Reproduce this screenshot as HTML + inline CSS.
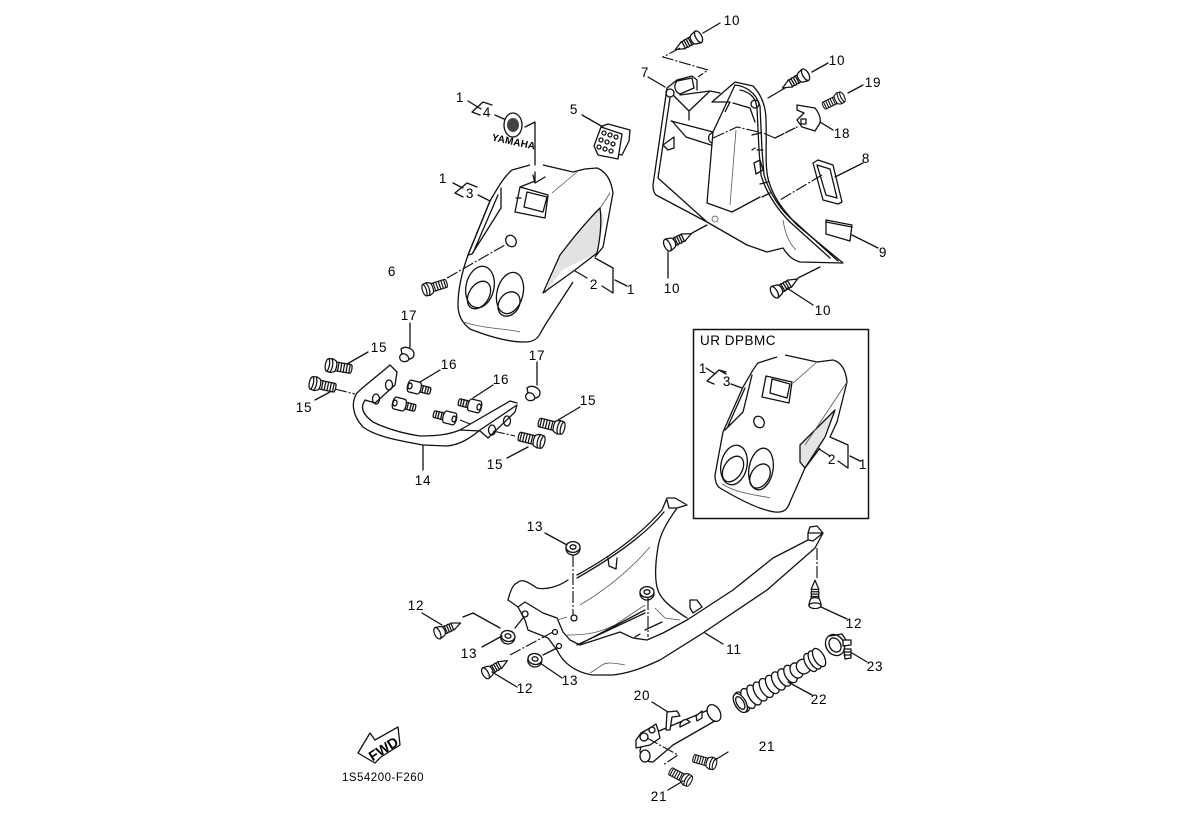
<!DOCTYPE html>
<html><head><meta charset="utf-8"><title>Parts diagram</title>
<style>
html,body{margin:0;padding:0;background:#fff}
svg{display:block}
text{font-family:"Liberation Sans",sans-serif;font-size:13.5px;fill:#000;text-anchor:middle;letter-spacing:.8px}
.l{fill:none;stroke:#111;stroke-width:1.3;stroke-linejoin:round;stroke-linecap:round}
.f{fill:#fff;stroke:#111;stroke-width:1.3;stroke-linejoin:round}
.t{fill:none;stroke:#555;stroke-width:.8}
.d{fill:none;stroke:#111;stroke-width:1.15;stroke-dasharray:12 2 2 2}
</style></head><body>
<svg width="1194" height="816" viewBox="0 0 1194 816" xmlns="http://www.w3.org/2000/svg">
<defs>
<g id="screw">
<path class="f" d="M7,-3.8 L9,-4.2 L11,-3.6 L13,-4.2 L15,-3.6 L17,-4 L19,-3 L26,0 L19,3 L17,4 L15,3.6 L13,4.2 L11,3.6 L9,4.2 L7,3.8Z"/>
<path class="l" d="M9,-3.8 L9,3.8 M11.5,-3.8 L11.5,3.8 M14,-3.8 L14,3.8 M16.5,-3.8 L16.5,3.8"/>
<path class="f" d="M0,-6.5 C-5,-6.5 -5,6.5 0,6.5 L5,5.2 C8.5,4 8.5,-4 5,-5.2Z"/>
<path class="l" d="M0,-6.5 C3,-4 3,4 0,6.5"/>
</g>
<g id="bolt">
<path class="f" d="M7,-4.6 L24,-4.6 C26,-4.6 26,4.6 24,4.6 L7,4.6Z"/>
<path class="l" d="M11,-4.6 L11,4.6 M14,-4.6 L14,4.6 M17,-4.6 L17,4.6 M20,-4.6 L20,4.6 M23,-4.6 L23,4.6"/>
<path class="f" d="M0,-6.8 C-3.8,-6.8 -3.8,6.8 0,6.8 L4,7.3 L8,5.6 C9.5,3 9.5,-3 8,-5.6 L4,-7.3Z"/>
<path class="l" d="M3,-7.3 C5.5,-3 5.5,3 3,7.3 M0,-6.8 C2,-3 2,3 0,6.8"/>
</g>
<g id="collar">
<path class="f" d="M10,-3.4 L20,-3.4 C21.5,-3.4 21.5,3.4 20,3.4 L10,3.4Z"/>
<path class="l" d="M13,-3.4 L13,3.4 M16,-3.4 L16,3.4 M18.5,-3.4 L18.5,3.4"/>
<path class="f" d="M0,-6 C-3.2,-6 -3.2,6 0,6 L9,6 C12,6 12,-6 9,-6Z"/>
<ellipse class="l" cx="0" cy="0" rx="2" ry="3"/>
</g>
<g id="washer"><ellipse class="f" cx="0" cy="1.5" rx="7" ry="6.5"/><ellipse class="f" cx="0" cy="0" rx="7" ry="5.4"/><ellipse class="l" cx="0" cy="0" rx="3" ry="2.2"/></g>
<g id="cap"><path class="f" d="M-6,-6 C-1,-10 7,-6 7,-1 C7,2 5,4 2,4 C1,7 -5,8 -7,4 C-8,2 -7,0 -5,-1Z"/><path class="l" d="M-5,-1 C-2,-2 1,0 2,4"/></g>
</defs>

<!-- FRONT FENDER -->
<path class="f" d="M530,165 L512,170 C505,176 501,182 490,201 L468,255 C462,272 458,290 458,305 C458,315 462,323 470,329 C490,337 510,342 525,342 C533,342 538,339 541,332 L547,322 L573,282 M543,165 L573,172 L585,169 L597,168 C605,171 611,179 613,193 L603,247 L595,257"/>
<path class="l" d="M501,188 L501,208 L472,254 L468,255 L490,201 M473,253 L498,195"/>
<path class="t" d="M610,193 L545,293 M577,172 L552,193 M463,322 C490,330 505,328 520,332"/>
<path d="M600,208 L604,220 L597,253 L562,270 L545,293 L560,255Z" fill="#e2e2e2"/>
<path class="l" d="M600,208 C580,228 568,245 560,255 L543,293 L575,270 L597,253 C600,240 602,222 600,208Z"/>
<path class="l" d="M520,187 L548,195 L545,218 L515,212Z M527,192 L547,197 L543,212 L524,207Z M520,187 L535,181 M516,198 L521,198"/>
<g><ellipse class="l" cx="480" cy="287" rx="14" ry="21" transform="rotate(12 480 287)"/><ellipse class="l" cx="479" cy="295" rx="10" ry="15" transform="rotate(32 479 295)"/><ellipse class="l" cx="510" cy="293" rx="13" ry="21" transform="rotate(14 510 293)"/><ellipse class="l" cx="509" cy="304" rx="10" ry="13" transform="rotate(34 509 304)"/></g>
<ellipse class="l" cx="511" cy="241" rx="5" ry="6" transform="rotate(-30 511 241)"/>
<path class="d" d="M447,278 L505,245"/>
<use href="#bolt" transform="translate(425,290) rotate(-18) scale(.9)"/>

<!-- emblem & 5 -->
<ellipse class="l" cx="513" cy="125" rx="9" ry="12"/><ellipse cx="513" cy="125" rx="6" ry="7" fill="#444"/>
<text x="513" y="145" transform="rotate(12 513 145)" style="font-size:10px;font-weight:bold;letter-spacing:.2px">YAMAHA</text>
<path class="f" d="M602,126 L608,124 L630,130 L629,141 L622,155 L606,152Z"/>
<path class="f" d="M594,146 L601,127 L622,134 L618,159 L598,155Z"/>
<g class="l"><circle cx="604" cy="133" r="2"/><circle cx="610" cy="135" r="2"/><circle cx="616" cy="137" r="2"/><circle cx="601" cy="140" r="2"/><circle cx="607" cy="142" r="2"/><circle cx="613" cy="144" r="2"/><circle cx="599" cy="147" r="2"/><circle cx="605" cy="149" r="2"/><circle cx="611" cy="151" r="2"/></g>

<!-- REAR PANEL -->
<path class="f" d="M667,88 L653,185 C653,190 654,193 656,195 L707,222 L747,245 L767,252 L783,248 C788,256 793,260 800,262 L843,263 L797,225 C785,212 775,200 770,185 C764,170 767,150 766,120 C766,108 762,95 753,86 L735,82 L712,102 L730,102 L725,112"/>
<path class="l" d="M670,98 L658,178 L707,222 M735,85 C745,86 756,92 760,106 L762,150 L764,175 C770,195 782,212 795,222 L838,261 M740,90 C750,92 756,98 757,108 L759,150 L761,175 C766,193 778,210 790,222 L830,258"/>
<path class="l" d="M735,85 L713,132 L707,203 L732,212 L760,197 M733,103 L750,108 L755,122"/>
<path class="l" d="M667,88 L677,80 L692,76 L697,80 L697,90 M677,81 L692,78 L694,88 L680,94 C675,92 673,86 677,81 M680,95 L710,91 L720,93 M674,96 L689,111 L710,91 M689,111 L689,120 M671,121 L713,132 M686,137 L672,121 M686,137 L711,145 M712,133 C707,135 708,142 712,143"/>
<circle class="l" cx="670" cy="93" r="4"/><circle class="l" cx="755" cy="104" r="4"/>
<path class="l" d="M663,145 L674,137 L674,148 L668,150Z M752,135 L760,133 M757,150 L763,150 M754,163 L760,160 L763,170 L756,174Z M760,184 L768,182 M762,197 L770,193 M752,150 L755,148"/>
<path class="t" d="M736,130 L730,205 M783,220 C785,232 788,242 796,250"/>
<circle class="t" cx="715" cy="219" r="3"/>

<use href="#screw" transform="translate(698,37) rotate(151)"/>
<use href="#screw" transform="translate(805,75) rotate(150)"/>
<use href="#screw" transform="translate(668,245) rotate(-26)"/>
<use href="#screw" transform="translate(775,292) rotate(-30)"/>
<use href="#bolt" transform="translate(842,97) rotate(154) scale(.82)"/>
<path class="f" d="M797,105 L815,108 C819,113 821,118 820,123 L815,131 L802,127 L797,120 L804,113 L797,110Z"/><rect class="l" x="801" y="119" width="5" height="5"/>
<path class="f" d="M813,163 L818,160 L833,165 L842,202 L838,204 L823,200Z"/><path class="l" d="M817,165 L830,169 L837,198 L826,195Z"/>
<path class="f" d="M826,220 L852,225 L850,241 L826,234Z"/><path class="l" d="M826,222 L852,227"/>

<!-- BAR 14 -->
<path class="f" d="M390,365 C375,378 365,385 357,393 C351,402 352,415 363,427 C375,436 395,440 423,445 L447,446 C458,445 468,440 480,430 L517,405 L515,412 L488,438 L480,431 L460,430 C450,434 440,436 420,436 C400,433 385,428 373,422 C365,416 361,410 363,404 L365,400 L375,403 L395,385 L397,372Z"/>
<path class="l" d="M510,401 L517,403 M460,430 L510,401"/>
<ellipse class="l" cx="389" cy="385" rx="3.5" ry="5"/><ellipse class="l" cx="376" cy="399" rx="3.5" ry="5"/><ellipse class="l" cx="507" cy="421" rx="3.5" ry="5"/><ellipse class="l" cx="492" cy="430" rx="3.5" ry="5"/>
<use href="#bolt" transform="translate(328,365) rotate(10) scale(.95)"/>
<use href="#bolt" transform="translate(312,383) rotate(12) scale(.95)"/>
<use href="#bolt" transform="translate(562,428) rotate(194) scale(.95)"/>
<use href="#bolt" transform="translate(542,442) rotate(194) scale(.95)"/>
<use href="#collar" transform="translate(410,386) rotate(14)"/>
<use href="#collar" transform="translate(395,403) rotate(14)"/>
<use href="#collar" transform="translate(479,407) rotate(194)"/>
<use href="#collar" transform="translate(454,419) rotate(194)"/>
<use href="#cap" transform="translate(407,355)"/>
<use href="#cap" transform="translate(533,394)"/>

<!-- INSET -->
<rect x="693.5" y="329.5" width="175" height="189" fill="none" stroke="#111" stroke-width="1.5"/>
<path class="f" d="M777,357 L758,363 C752,370 750,376 743,387 L723,432 L715,475 C715,482 717,486 720,488 C740,500 760,510 775,512 C785,513 788,508 790,502 L805,468 L820,448 M785,355 L817,362 L833,360 C841,362 846,370 847,382 L837,422 L830,437"/>
<path class="l" d="M752,375 L743,412 L725,430 M745,388 L728,426"/>
<path d="M835,410 L800,445 L800,462 L805,468 L820,445Z" fill="#e4e4e4"/>
<path class="l" d="M835,410 L800,445 L800,462 L805,468 L825,437Z"/>
<path class="l" d="M766,376 L792,382 L789,403 L762,397Z M772,379 L790,384 L787,398 L770,393Z"/>
<path class="t" d="M847,382 L805,445 M817,362 L793,383 M722,484 C740,495 760,495 770,498"/>
<ellipse class="l" cx="759" cy="422" rx="5" ry="6" transform="rotate(-30 759 422)"/>
<ellipse class="l" cx="734" cy="465" rx="13" ry="20" transform="rotate(12 734 465)"/><ellipse class="l" cx="733" cy="469" rx="9" ry="14" transform="rotate(32 733 469)"/>
<ellipse class="l" cx="761" cy="469" rx="12" ry="21" transform="rotate(10 761 469)"/><ellipse class="l" cx="760" cy="476" rx="9" ry="13" transform="rotate(32 760 476)"/>

<!-- FLOOR PANEL 11 -->
<path class="f" d="M823,533 L808,533 L808,540 L773,558 L733,590 L687,620 L663,633 L647,640 L633,638 L620,632 L580,645 L570,640 L563,632 L557,618 L543,613 L525,602 L518,607 L525,620 L528,630 L548,638 L557,650 C563,663 575,672 592,675 L613,675 C630,673 645,667 660,660 L703,633 L767,590 L815,548Z"/>
<path class="l" d="M808,533 L810,527 L817,526 L823,533 M813,541 L823,533 M808,540 L813,541"/>
<path class="l" d="M518,607 L508,600 C510,592 513,584 517,583 C522,578 528,582 537,588 C545,590 558,587 568,580 M577,575 C610,557 640,535 662,510 L667,498 L675,498 L687,505 L677,508 C665,525 660,535 658,547 C655,565 655,578 657,587 C659,596 665,604 687,618 M667,500 L669,508 L677,508 M577,578 C612,558 645,535 664,512 M608,558 L609,566 L616,569 L617,558"/>
<path class="t" d="M580,605 C605,590 630,570 650,547 M567,617 L557,620 M567,635 C590,635 600,632 615,625 L645,605 M590,673 C605,665 600,660 625,665 M655,608 L665,618 L680,620"/>
<path class="l" d="M577,645 L645,613 M580,644 L645,610 M635,637 L640,634 M645,630 L662,622"/>
<path class="f" d="M690,600 L697,600 L702,607 L693,613 L690,608Z"/>
<circle class="l" cx="574" cy="618" r="3"/><circle class="l" cx="525" cy="614" r="3"/><circle class="l" cx="555" cy="632" r="2.5"/><circle class="l" cx="559" cy="646" r="2.5"/>
<use href="#washer" transform="translate(573,547)"/>
<use href="#washer" transform="translate(647,592)"/>
<use href="#washer" transform="translate(508,636) rotate(10)"/>
<use href="#washer" transform="translate(535,659) rotate(10)"/>
<use href="#screw" transform="translate(438,633) rotate(-24) scale(.95)"/>
<use href="#screw" transform="translate(486,673) rotate(-30) scale(.95)"/>
<use href="#screw" transform="translate(815,605) rotate(-90) scale(.95)"/>

<!-- HOSE 22 -->
<g transform="translate(742,702) rotate(-30)">
<ellipse cx="0" cy="0" rx="6" ry="11" class="f"/><ellipse cx="7" cy="0" rx="5.5" ry="11" class="f"/><ellipse cx="14" cy="0" rx="5.5" ry="11" class="f"/><ellipse cx="21" cy="0" rx="5.5" ry="10.5" class="f"/><ellipse cx="28" cy="0" rx="5.5" ry="10.5" class="f"/><ellipse cx="35" cy="0" rx="5.5" ry="10" class="f"/><ellipse cx="42" cy="0" rx="5.5" ry="10" class="f"/><ellipse cx="49" cy="0" rx="5.5" ry="9.5" class="f"/><ellipse cx="56" cy="0" rx="5.5" ry="9.5" class="f"/><ellipse cx="63" cy="0" rx="6" ry="8" class="f"/><ellipse cx="71" cy="0" rx="7" ry="7.5" class="f"/><ellipse cx="79" cy="0" rx="5" ry="10" class="f"/><ellipse cx="84" cy="0" rx="5" ry="10" class="f"/><ellipse cx="89" cy="0" rx="5" ry="10" class="f"/>
<ellipse cx="-2" cy="0" rx="5.5" ry="10.5" class="f"/><ellipse cx="-2" cy="0" rx="3.5" ry="7" class="l"/>
</g>
<!-- clamp 23 -->
<ellipse class="f" cx="835" cy="645" rx="9" ry="11" transform="rotate(-30 835 645)"/><ellipse class="l" cx="835" cy="645" rx="5.5" ry="7.5" transform="rotate(-30 835 645)"/>
<path class="f" d="M843,640 L851,640 L851,645 L843,646Z"/><path class="f" d="M844,649 L851,649 L851,658 L845,659Z"/><path class="l" d="M844,652 L851,652 M844,655 L851,655 M830,636 L842,634 L846,640"/>

<!-- CYLINDER 20 -->
<path class="f" d="M645,737 L713,708 L720,718 L673,745 L653,762 C646,762 640,757 640,750Z"/>
<ellipse class="f" cx="714" cy="713" rx="6" ry="9" transform="rotate(-30 714 713)"/>
<ellipse class="f" cx="645" cy="756" rx="5" ry="6"/>
<path class="f" d="M636,740 L641,733 L650,728 L656,724 L658,730 L660,738 L650,745 L636,748Z"/><circle class="l" cx="652" cy="730" r="3"/><circle class="l" cx="644" cy="737" r="4"/>
<path class="f" d="M666,730 L667,712 L677,711 L680,716 L672,717 L670,730Z"/>
<path class="f" d="M680,724 C684,717 688,720 690,722 L680,727Z"/><path class="f" d="M696,716 L702,711 L702,718 L697,721Z"/>
<use href="#bolt" transform="translate(714,764) rotate(196) scale(.85)"/>
<use href="#bolt" transform="translate(689,781) rotate(208) scale(.85)"/>

<!-- FWD -->
<path class="f" d="M358,753 L370,733 L375,740 L398,727 L400,745 L381,757 L375,763Z" stroke-width="1.3"/>
<text x="386" y="753" transform="rotate(-32 386 753)" style="font-size:14px;font-weight:bold;letter-spacing:0">FWD</text>
<text x="383" y="781" style="font-size:11.5px;letter-spacing:.5px">1S54200-F260</text>

<!-- LEADERS -->
<path class="l" d="M468,101 L481,109 M472,112 L483,102 L492,105 M472,112 L480,115 M495,115 L504,119 M525,127 L535,122 L535,165 M535,172 L535,183 L545,177 M535,183 L533,175 M582,115 L603,127
M453,183 L463,188 M455,193 L467,183 L477,187 M455,193 L463,197 M478,195 L490,201
M575,271 L587,278 M602,286 L613,293 L613,268 L595,258 M615,280 L627,286
M720,23 L703,33 M648,77 L665,87 M828,63 L812,72 M785,88 L768,98 M863,85 L848,93 M833,130 L820,122 M863,163 L835,177 M878,248 L852,235
M707,225 L692,233 M668,252 L668,278 M820,267 L798,278 M787,288 L813,305
M410,323 L410,347 M368,352 L347,364 M315,400 L330,392 M440,370 L420,382 M493,385 L473,398 M537,362 L537,385 M580,407 L558,420 M507,458 L528,447 M423,445 L423,470
M545,533 L567,545 M422,613 L442,625 M482,647 L502,636 M517,687 L492,672 M562,678 L540,663 M543,655 L557,648 M723,644 L705,633 M847,619 L821,607
M463,617 L473,613 L500,628 M515,628 L523,618
M812,695 L788,682 M867,662 L852,653 M652,702 L668,712 M728,752 L715,760 M668,790 L683,781
M726,374 L719,370 M706,368 L715,374 M707,381 L719,370 L726,372 M707,381 L714,384 M731,384 L742,388
M819,449 L830,456 M838,461 L848,468 L848,445 L830,437 M850,456 L860,461"/>
<path class="d" d="M680,48 L663,57 L708,70 L698,77"/>
<path class="d" d="M775,138 L763,133 L737,127 L713,138"/><path class="l" d="M775,138 L797,127" stroke-dasharray="10 2"/>
<path class="d" d="M822,175 L780,200"/>
<path class="d" d="M335,389 L355,394"/><path class="d" d="M493,431 L515,436"/><path class="d" d="M460,420 L470,424"/>
<path class="d" d="M573,555 L573,615"/><path class="d" d="M648,598 L648,637"/><path class="d" d="M510,655 L553,632"/><path class="d" d="M817,548 L817,580"/>
<path class="d" d="M647,738 L678,755 L663,765"/>

<!-- LABELS -->
<text x="732" y="25">10</text><text x="837" y="65">10</text><text x="672" y="293">10</text><text x="823" y="315">10</text>
<text x="873" y="87">19</text><text x="842" y="138">18</text><text x="866" y="163">8</text><text x="883" y="257">9</text><text x="645" y="77">7</text>
<text x="574" y="114">5</text><text x="487" y="117">4</text><text x="460" y="102">1</text><text x="443" y="183">1</text><text x="470" y="198">3</text>
<text x="392" y="276">6</text><text x="594" y="289">2</text><text x="631" y="294">1</text>
<text x="409" y="320">17</text><text x="379" y="352">15</text><text x="304" y="412">15</text><text x="449" y="369">16</text><text x="501" y="384">16</text><text x="537" y="360">17</text><text x="588" y="405">15</text><text x="495" y="469">15</text><text x="423" y="485">14</text>
<text x="700" y="345" style="text-anchor:start;font-size:13.5px;letter-spacing:.5px">UR DPBMC</text>
<text x="703" y="373">1</text><text x="727" y="386">3</text><text x="832" y="464">2</text><text x="863" y="469">1</text>
<text x="535" y="531">13</text><text x="416" y="610">12</text><text x="469" y="658">13</text><text x="525" y="693">12</text><text x="570" y="685">13</text><text x="734" y="654">11</text><text x="854" y="628">12</text><text x="875" y="671">23</text><text x="819" y="704">22</text><text x="642" y="700">20</text><text x="767" y="751">21</text><text x="659" y="801">21</text>
</svg>
</body></html>
